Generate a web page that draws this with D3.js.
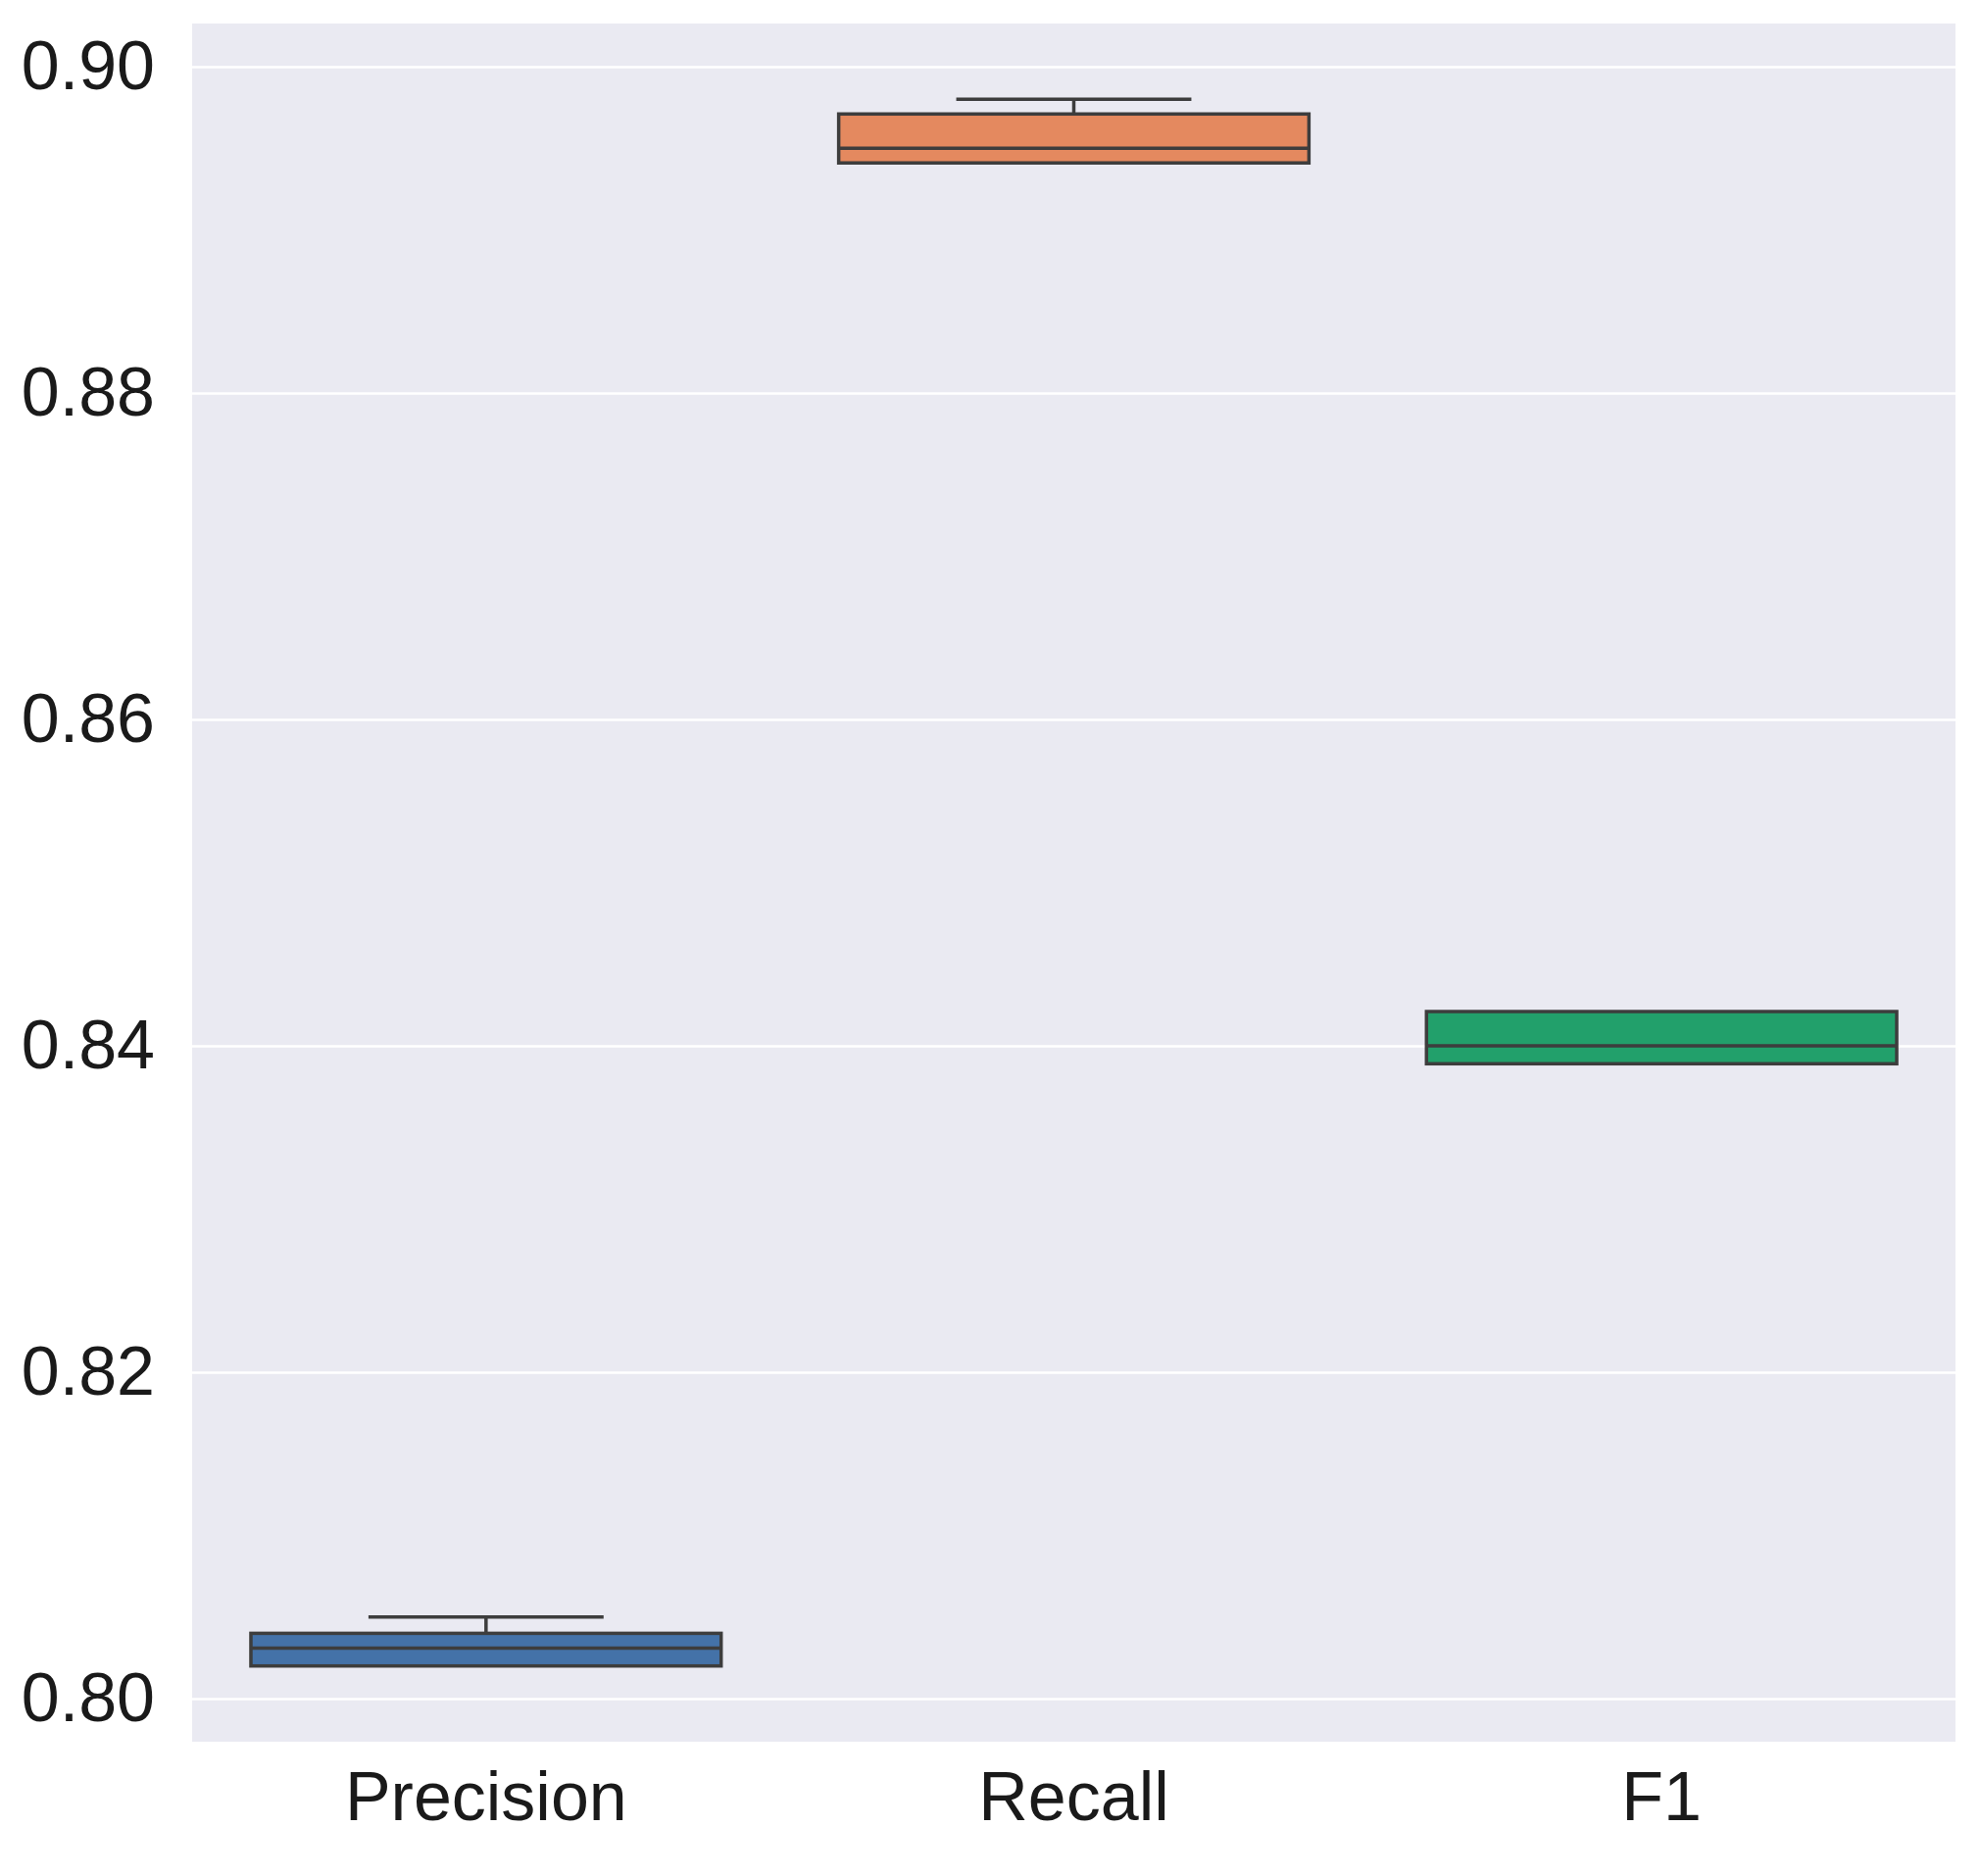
<!DOCTYPE html>
<html><head><meta charset="utf-8">
<script src="https://cdn.jsdelivr.net/npm/d3@7"></script>
<style>body{margin:0;background:#fff}</style></head>
<body><svg id="c" width="2020" height="1914"></svg>
<script>
const categories = ["Precision","Recall","F1"];
const whiskerLow = [0.802, 0.8941, 0.8389];
const q1 = [0.802, 0.8941, 0.8389];
const median = [0.8031, 0.895, 0.840];
const q3 = [0.804, 0.8971, 0.8421];
const whiskerHigh = [0.805, 0.898, 0.8421];
const colors = ["#4472a8","#e4895f","#22a06b"];
const yTicks = [0.80,0.82,0.84,0.86,0.88,0.90];

const svg = d3.select("#c");
const L=196,R=1995,T=24,B=1777;
const x = d3.scaleBand().domain(categories).range([L,R]).paddingInner(0.2).paddingOuter(0.1);
const y = d3.scaleLinear().domain([0.80,0.90]).range([1733,68]);
svg.append("rect").attr("x",L).attr("y",T).attr("width",R-L).attr("height",B-T).attr("fill","#eaeaf2");
const ya = d3.axisLeft(y).tickValues(yTicks).tickFormat(d3.format(".2f")).tickSize(-(R-L)).tickPadding(38);
const g = svg.append("g").attr("transform",`translate(${L},0)`).call(ya);
g.select(".domain").remove();
g.selectAll(".tick line").attr("stroke","#fff").attr("stroke-width",2.5);
g.selectAll(".tick text").attr("font-family","Liberation Sans, Arial, sans-serif").attr("font-size",70).attr("fill","#1a1a1a");
const xa = d3.axisBottom(x).tickSize(0).tickPadding(30);
const gx = svg.append("g").attr("transform",`translate(0,${B})`).call(xa);
gx.select(".domain").remove();
gx.selectAll(".tick text").attr("font-family","Liberation Sans, Arial, sans-serif").attr("font-size",70).attr("fill","#1a1a1a");

const st="#3d3d3d", sw=3.5;
categories.forEach((c,i)=>{
  const x0=x(c), w=x.bandwidth(), cx=x0+w/2;
  const gg=svg.append("g");
  gg.append("line").attr("x1",cx).attr("x2",cx).attr("y1",y(whiskerHigh[i])).attr("y2",y(q3[i])).attr("stroke",st).attr("stroke-width",sw);
  gg.append("line").attr("x1",cx).attr("x2",cx).attr("y1",y(whiskerLow[i])).attr("y2",y(q1[i])).attr("stroke",st).attr("stroke-width",sw);
  if(whiskerHigh[i]>q3[i]) gg.append("line").attr("x1",cx-w/4).attr("x2",cx+w/4).attr("y1",y(whiskerHigh[i])).attr("y2",y(whiskerHigh[i])).attr("stroke",st).attr("stroke-width",sw);
  if(whiskerLow[i]<q1[i]) gg.append("line").attr("x1",cx-w/4).attr("x2",cx+w/4).attr("y1",y(whiskerLow[i])).attr("y2",y(whiskerLow[i])).attr("stroke",st).attr("stroke-width",sw);
  gg.append("rect").attr("x",x0).attr("width",w).attr("y",y(q3[i])).attr("height",y(q1[i])-y(q3[i])).attr("fill",colors[i]).attr("stroke",st).attr("stroke-width",sw);
  gg.append("line").attr("x1",x0).attr("x2",x0+w).attr("y1",y(median[i])).attr("y2",y(median[i])).attr("stroke",st).attr("stroke-width",sw);
});
</script></body></html>
